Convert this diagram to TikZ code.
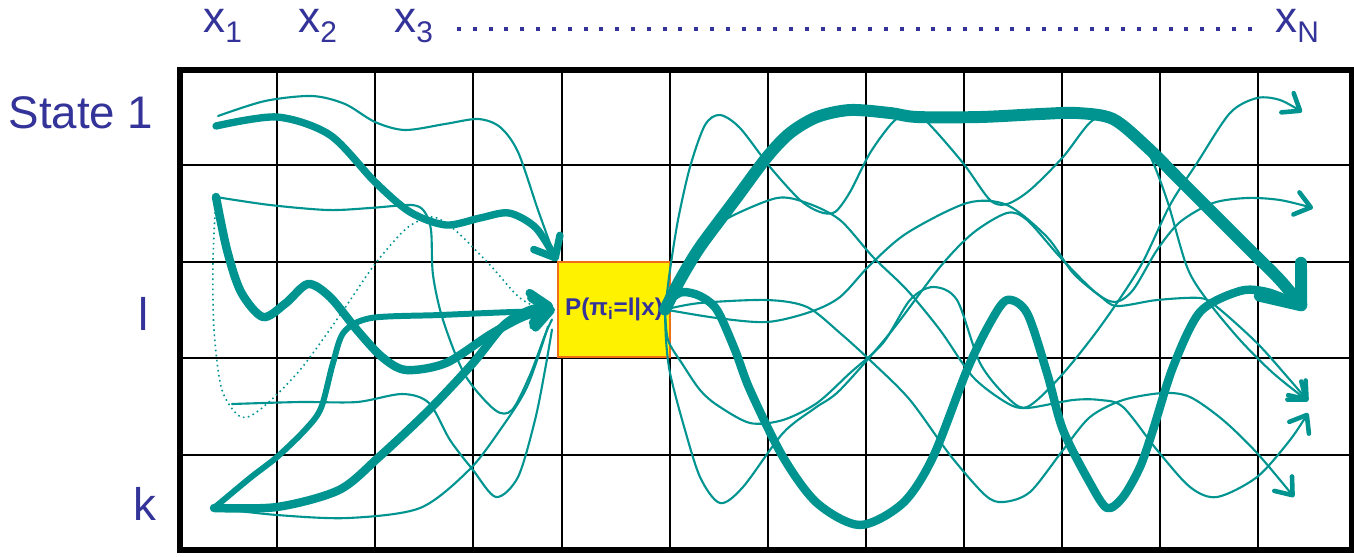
\documentclass[tikz,border=0pt]{standalone}
\usepackage{fontspec}
\setmainfont{Liberation Sans}
\usetikzlibrary{arrows.meta}

\definecolor{labelblue}{RGB}{51,51,153}
\definecolor{pathteal}{RGB}{0,148,145}
\definecolor{boxorange}{RGB}{240,110,20}

\newcommand{\xsub}[1]{x\raisebox{-6pt}{\fontsize{17}{17}\selectfont #1}}

\begin{document}
\begin{tikzpicture}[x=0.02cm, y=-0.02cm,
    gridline/.style={line width=1.4pt},
    frame/.style={line width=3.2pt},
    lab/.style={text=labelblue, inner sep=0pt, anchor=base, font=\fontsize{26}{26}\selectfont},
    xlab/.style={text=labelblue, inner sep=0pt, anchor=base west, font=\fontsize{25}{25}\selectfont},
    dotrow/.style={labelblue, line width=2pt, dash pattern=on 2.3pt off 6.7pt},
    pbox/.style={draw=boxorange, fill=yellow, line width=1.2pt, minimum width=63.7pt,
        minimum height=54pt, inner sep=0pt, text=labelblue, font=\bfseries\fontsize{13.8}{14}\selectfont},
    thinpath/.style={draw=pathteal, line width=1.2pt, line cap=round, line join=round},
    dotpath/.style={draw=pathteal, line width=0.9pt, dotted},
    thickpath/.style={draw=pathteal, line width=#1, line cap=round, line join=round},
    thinhead/.style={-{Straight Barb[length=8.5pt,width=13pt,line width=2.6pt,round]}},
    headL/.style={-{Straight Barb[length=10pt,width=17pt,round]}},
    headR/.style={-{Straight Barb[length=19pt,width=30pt,round]}}]

\useasboundingbox (0,0) rectangle (1354,556);

% ===== grid =====
\foreach \gx in {277,375,473,562,670,768,866,964,1062,1160,1258} {
    \draw[gridline] (\gx,70) -- (\gx,550);
}
\foreach \gy in {165,262,358,455} {
    \draw[gridline] (180,\gy) -- (1352,\gy);
}
\draw[frame] (180,70) rectangle (1352,550);

% ===== labels =====
\node[xlab] (x1) at (203,32) {\xsub{1}};
\node[xlab] (x2) at (298,32) {\xsub{2}};
\node[xlab] (x3) at (394,32) {\xsub{3}};
\node[xlab] (xN) at (1275,32) {\xsub{N}};
\coordinate (dl) at (457,29);
\coordinate (dr) at (1255,29);
\draw[dotrow] (dl) -- (dr);

\node[lab] (state1) at (81,128) {State 1};
\node[lab] (statel) at (143.5,330) {l};
\node[lab] (statek) at (145,520) {k};

% ===== box =====
\node[pbox] (box) at (614,309.5) {P(π\textsubscript{i}=l|x)};

% ===== start / end points =====
\coordinate (s1a) at (218,116);
\coordinate (s1b) at (216,126);
\coordinate (sl) at (216,197);
\coordinate (s6) at (232,404);
\coordinate (sk) at (214,508);
\coordinate (inA) at ([shift={(-2,-4)}]box.north west);
\coordinate (inB) at ([shift={(0,0)}]box.north west);
\coordinate (inC) at ([shift={(-2,0)}]box.west);
\coordinate (inD) at ([shift={(-4,2)}]box.west);
\coordinate (inE) at ([shift={(-4,-4)}]box.west);
\coordinate (inF) at ([shift={(-5,10)}]box.west);
\coordinate (inG) at ([shift={(-5,20)}]box.west);
\coordinate (inH) at ([shift={(-9,17)}]box.west);
\coordinate (inI) at ([shift={(-10,2)}]box.west);
\coordinate (o) at ([shift={(-6,0)}]box.east);
\coordinate (e1) at (1302,112);
\coordinate (e2) at (1313,208);
\coordinate (e3) at (1305,310);
\coordinate (e4) at (1308,401);
\coordinate (e5) at (1308,413);
\coordinate (e6) at (1294,497);

% ===== paths into the box =====
\draw[thinpath] plot[smooth] coordinates {(s1a) (265,101) (312,96) (345,104) (375,122) (405,130)
    (445,124) (478,119) (500,127) (518,152) (538,210) (inA)};
\draw[thickpath=4.2pt, headL] plot[smooth] coordinates {(s1b) (277,117) (330,135) (375,182)
    (410,212) (446,225) (480,218) (509,213) (536,228) (inB)};
\draw[thinpath] plot[smooth] coordinates {(sl) (270,205) (328,210) (370,208) (411,205) (424,211)
    (431,230) (433,275) (443,320) (465,375) (495,410) (512,410) (530,375) (545,335) (inF)};
\draw[thickpath=4.8pt, headL] plot[smooth] coordinates {(sl) (227,250) (241,292) (263,317) (286,303)
    (308,284) (330,297) (357,330) (382,357) (406,370) (446,363) (491,334) (525,316) (inC)};
\draw[dotpath] plot[smooth] coordinates {(sl) (213,260) (214,330) (222,390) (241,417) (262,408)
    (300,370) (340,315) (372,268) (395,240) (411,225) (433,217) (455,230) (490,265) (520,298) (inI)};
\draw[thinpath] plot[smooth] coordinates {(s6) (300,402) (357,402) (402,394) (429,403) (450,440)
    (473,470) (496,497) (518,477) (535,420) (545,370) (inG)};
\draw[thickpath=3.4pt, headL] plot[smooth] coordinates {(sk) (250,478) (277,457) (305,430) (321,408)
    (333,363) (344,332) (371,318) (440,315) (513,312) (inD)};
\draw[thickpath=4.8pt, headL] plot[smooth] coordinates {(sk) (277,507) (339,490) (379,457) (429,410)
    (473,363) (504,325) (530,310) (inE)};
\draw[thinpath] plot[smooth] coordinates {(sk) (277,515) (348,518) (420,508) (469,470) (500,430)
    (527,387) (inH)};

% ===== paths out of the box =====
\draw[thickpath=6.8pt, headR] plot[smooth] coordinates {(o) (680,280) (700,247) (735,200) (767,157)
    (790,133) (817,117) (850,110) (890,113) (917,117) (980,117) (1040,114) (1077,113) (1113,119)
    (1147,147) (1180,180) (1213,213) (1250,250) (1280,280) (e3)};
\draw[thickpath=4.8pt] plot[smooth] coordinates {(o) (672,298) (683,292) (700,296) (717,310) (735,350)
    (750,390) (783,457) (817,503) (860,525) (903,503) (933,457) (967,370) (990,323) (1007,300)
    (1027,313) (1047,373) (1063,430) (1090,483) (1107,508) (1123,497) (1140,467) (1153,430)
    (1173,367) (1200,312) (1240,291) (1267,292) (1295,303)};
\draw[thinpath, thinhead] plot[smooth] coordinates {(o) (700,303) (767,300) (807,307) (840,333)
    (873,363) (910,400) (950,455) (985,495) (1003,502) (1030,492) (1063,450) (1090,417) (1123,400)
    (1163,393) (1190,397) (1223,420) (1257,453) (e6)};
\draw[thinpath, thinhead] plot[smooth] coordinates {(o) (717,318) (767,322) (810,312) (840,297)
    (870,265) (907,233) (967,203) (1007,205) (1047,237) (1073,273) (1100,296) (1117,306) (1157,300)
    (1200,298) (1217,307) (1257,343) (1290,380) (e4)};
\draw[thinpath, thinhead] plot[smooth] coordinates {(o) (666,340) (670,373) (683,423) (700,477)
    (720,503) (743,487) (783,433) (815,408) (840,390) (890,333) (940,267) (973,233) (1007,213)
    (1027,220) (1060,257) (1095,292) (1115,302) (1133,290) (1157,250) (1180,222) (1213,203)
    (1247,198) (1280,200) (e2)};
\draw[thinpath, thinhead] plot[smooth] coordinates {(o) (690,262) (712,232) (730,217) (777,198)
    (807,203) (840,220) (873,257) (907,290) (940,330) (973,377) (1007,403) (1027,408) (1073,400)
    (1100,400) (1123,407) (1157,450) (1190,487) (1217,497) (1257,477) (1290,440) (e5)};
\draw[thinpath, thinhead] plot[smooth] coordinates {(o) (668,340) (683,365) (700,390) (717,405)
    (750,423) (783,420) (817,403) (850,373) (883,343) (910,300) (933,287) (957,300) (980,363)
    (1007,397) (1027,407) (1060,377) (1100,327) (1140,267) (1170,205) (1197,163) (1230,113)
    (1257,98) (1280,100) (e1)};
\draw[thinpath, thinhead] plot[smooth] coordinates {(o) (670,270) (678,220) (690,167) (705,125)
    (720,115) (740,128) (770,167) (800,200) (820,212) (835,212) (850,192) (870,153) (893,122)
    (910,113) (927,122) (963,163) (990,200) (1007,204) (1030,190) (1063,157) (1093,120) (1120,120)
    (1147,150) (1167,200) (1187,267) (1207,300) (1240,340) (1273,373) (e4)};

\end{tikzpicture}
\end{document}
